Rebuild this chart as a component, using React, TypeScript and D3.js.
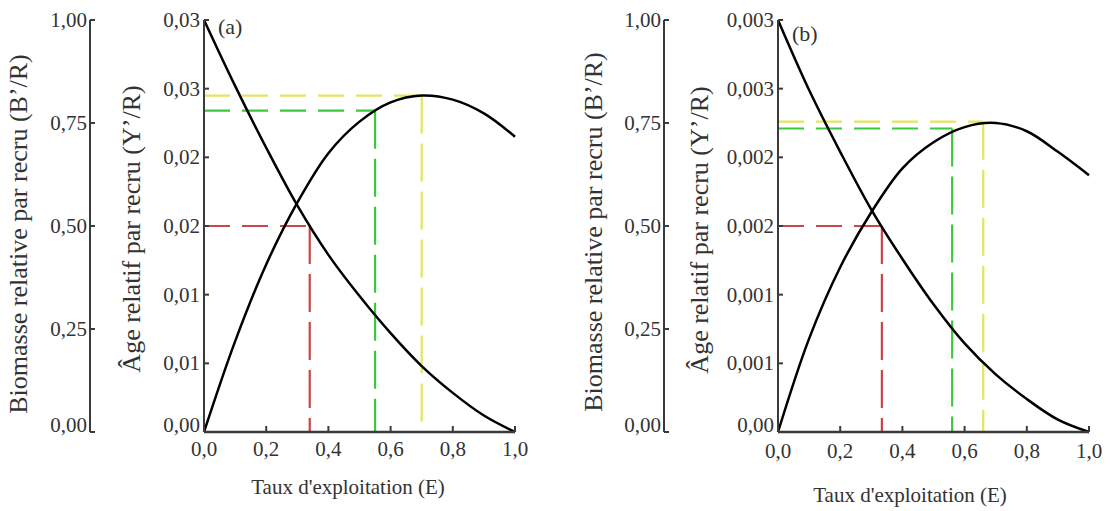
import React from "react";
import * as d3 from "d3";

// ---- data ----
const E = [0, 0.1, 0.2, 0.3, 0.4, 0.5, 0.6, 0.7, 0.8, 0.9, 1.0];
const biomassA = [1.0, 0.84, 0.69, 0.55, 0.43, 0.33, 0.24, 0.16, 0.095, 0.04, 0.0];
const yieldA = [0, 0.0066, 0.0122, 0.0167, 0.0203, 0.0226, 0.024, 0.0245, 0.0242, 0.0232, 0.0215];
const biomassB = [1.0, 0.83, 0.68, 0.54, 0.42, 0.31, 0.215, 0.14, 0.08, 0.03, 0.0];
const yieldB = [0, 0.00068, 0.0012, 0.0016, 0.00192, 0.00211, 0.00222, 0.00225, 0.00219, 0.00204, 0.00187];

const xTicks = [0, 0.2, 0.4, 0.6, 0.8, 1.0];
const xTickLabels = ["0,0", "0,2", "0,4", "0,6", "0,8", "1,0"];
const bTicks = [0, 0.25, 0.5, 0.75, 1.0];
const bTickLabels = ["0,00", "0,25", "0,50", "0,75", "1,00"];
const yTicksA = [0, 0.005, 0.01, 0.015, 0.02, 0.025, 0.03];
const yTickLabelsA = ["0,00", "0,01", "0,01", "0,02", "0,02", "0,03", "0,03"];
const yTicksB = [0, 0.0005, 0.001, 0.0015, 0.002, 0.0025, 0.003];
const yTickLabelsB = ["0,00", "0,001", "0,001", "0,002", "0,002", "0,003", "0,003"];

// reference points: E value and Y'/R level (E0.5, E0.1, Emax)
const refNames = ["E0.5", "E0.1", "Emax"];
const refEA = [0.34, 0.55, 0.70];
const refYA = [0.015, 0.0234, 0.0245];
const refEB = [0.334, 0.56, 0.66];
const refYB = [0.0015, 0.00221, 0.00226];

const refColors = ["#c9464a", "#3cc83c", "#e6e45c"];
const FONT = "'Liberation Serif', 'Times New Roman', serif";
const TXT = "#333";
const AX = "#3a3a3a";

type PanelProps = {
  dx: number;
  biomass: number[];
  yld: number[];
  yMax: number;
  yTicks: number[];
  yTickLabels: string[];
  refE: number[];
  refY: number[];
  tag: string;
  tagY: number;
  xTitleX: number;
  xTitleY: number;
  xLabelY: number;
  bTitleX: number;
  bTitleY: number;
  yTitleX: number;
  yTitleY: number;
};

function Panel(p: PanelProps) {
  const top = 20;
  const bottom = 432;
  const bAxisX = 90 + p.dx;
  const x = d3.scaleLinear().domain([0, 1]).range([204 + p.dx, 515 + p.dx]);
  const yb = d3.scaleLinear().domain([0, 1]).range([bottom, top]);
  const yy = d3.scaleLinear().domain([0, p.yMax]).range([bottom, top]);
  const x0 = x(0);
  // the lowest y tick labels sit slightly above their tick, as in the reference
  const labelShift = (t: number) => (t === 0 ? -7 : 0);

  const lineB = d3
    .line<number>()
    .x((_, i) => x(E[i]))
    .y((d) => yb(d))
    .curve(d3.curveCatmullRom.alpha(0.5));
  const lineY = d3
    .line<number>()
    .x((_, i) => x(E[i]))
    .y((d) => yy(d))
    .curve(d3.curveCatmullRom.alpha(0.5));

  return (
    <g>
      {/* B'/R axis */}
      <line x1={bAxisX} x2={bAxisX} y1={top} y2={bottom} stroke={AX} strokeWidth={2} />
      {bTicks.map((t, i) => (
        <g key={"b" + i}>
          <line x1={bAxisX} x2={bAxisX + 5} y1={yb(t)} y2={yb(t)} stroke={AX} strokeWidth={2} />
          <text
            x={bAxisX - 3}
            y={yb(t) + labelShift(t)}
            dy="0.34em"
            textAnchor="end"
            fontFamily={FONT}
            fontSize={21}
            fill={TXT}
          >
            {bTickLabels[i]}
          </text>
        </g>
      ))}
      <text
        transform={`translate(${p.bTitleX},${p.bTitleY}) rotate(-90)`}
        textAnchor="middle"
        fontFamily={FONT}
        fontSize={26}
        fill={TXT}
      >
        Biomasse relative par recru (B’/R)
      </text>

      {/* reference dashed lines */}
      {refNames.map((n, i) => (
        <g key={n}>
          <line
            x1={x0}
            x2={x(p.refE[i])}
            y1={yy(p.refY[i])}
            y2={yy(p.refY[i])}
            stroke={refColors[i]}
            strokeWidth={2.2}
            strokeDasharray="26 12"
          />
          <line
            x1={x(p.refE[i])}
            x2={x(p.refE[i])}
            y1={yy(p.refY[i])}
            y2={bottom}
            stroke={refColors[i]}
            strokeWidth={2.2}
            strokeDasharray="38 10"
          />
        </g>
      ))}

      {/* curves */}
      <path d={lineB(p.biomass) || ""} fill="none" stroke="#000" strokeWidth={2.5} />
      <path d={lineY(p.yld) || ""} fill="none" stroke="#000" strokeWidth={2.5} />

      {/* Y'/R axis */}
      <line x1={x0} x2={x0} y1={top} y2={bottom} stroke={AX} strokeWidth={2} />
      {p.yTicks.map((t, i) => (
        <g key={"y" + i}>
          <line x1={x0} x2={x0 + 5} y1={yy(t)} y2={yy(t)} stroke={AX} strokeWidth={2} />
          <text
            x={x0 - 4}
            y={yy(t) + labelShift(t)}
            dy="0.34em"
            textAnchor="end"
            fontFamily={FONT}
            fontSize={21}
            fill={TXT}
          >
            {p.yTickLabels[i]}
          </text>
        </g>
      ))}
      <text
        transform={`translate(${p.yTitleX},${p.yTitleY}) rotate(-90)`}
        textAnchor="middle"
        fontFamily={FONT}
        fontSize={26}
        fill={TXT}
      >
        Âge relatif par recru (Y’/R)
      </text>

      {/* x axis */}
      <line x1={x0} x2={x(1)} y1={bottom} y2={bottom} stroke={AX} strokeWidth={2.5} />
      {xTicks.map((t, i) => (
        <g key={"x" + i}>
          <line x1={x(t)} x2={x(t)} y1={bottom} y2={bottom - 6} stroke={AX} strokeWidth={2} />
          <text
            x={x(t)}
            y={p.xLabelY}
            textAnchor="middle"
            fontFamily={FONT}
            fontSize={21}
            fill={TXT}
          >
            {xTickLabels[i]}
          </text>
        </g>
      ))}
      <text
        x={p.xTitleX}
        y={p.xTitleY}
        textAnchor="middle"
        fontFamily={FONT}
        fontSize={21}
        fill={TXT}
      >
        Taux d'exploitation (E)
      </text>

      <text x={x0 + 14} y={p.tagY} fontFamily={FONT} fontSize={22} fill={TXT}>
        {p.tag}
      </text>
    </g>
  );
}

export default function App() {
  return (
    <svg
      width={1114}
      height={511}
      style={{ position: "absolute", left: 0, top: 0, background: "#fff" }}
    >
      <Panel
        dx={0}
        biomass={biomassA}
        yld={yieldA}
        yMax={0.03}
        yTicks={yTicksA}
        yTickLabels={yTickLabelsA}
        refE={refEA}
        refY={refYA}
        tag="(a)"
        tagY={34}
        xTitleX={348}
        xTitleY={494}
        xLabelY={456}
        bTitleX={27}
        bTitleY={234}
        yTitleX={140}
        yTitleY={229}
      />
      <Panel
        dx={574}
        biomass={biomassB}
        yld={yieldB}
        yMax={0.003}
        yTicks={yTicksB}
        yTickLabels={yTickLabelsB}
        refE={refEB}
        refY={refYB}
        tag="(b)"
        tagY={41}
        xTitleX={910}
        xTitleY={502}
        xLabelY={458}
        bTitleX={602}
        bTitleY={232}
        yTitleX={708}
        yTitleY={230}
      />
    </svg>
  );
}
